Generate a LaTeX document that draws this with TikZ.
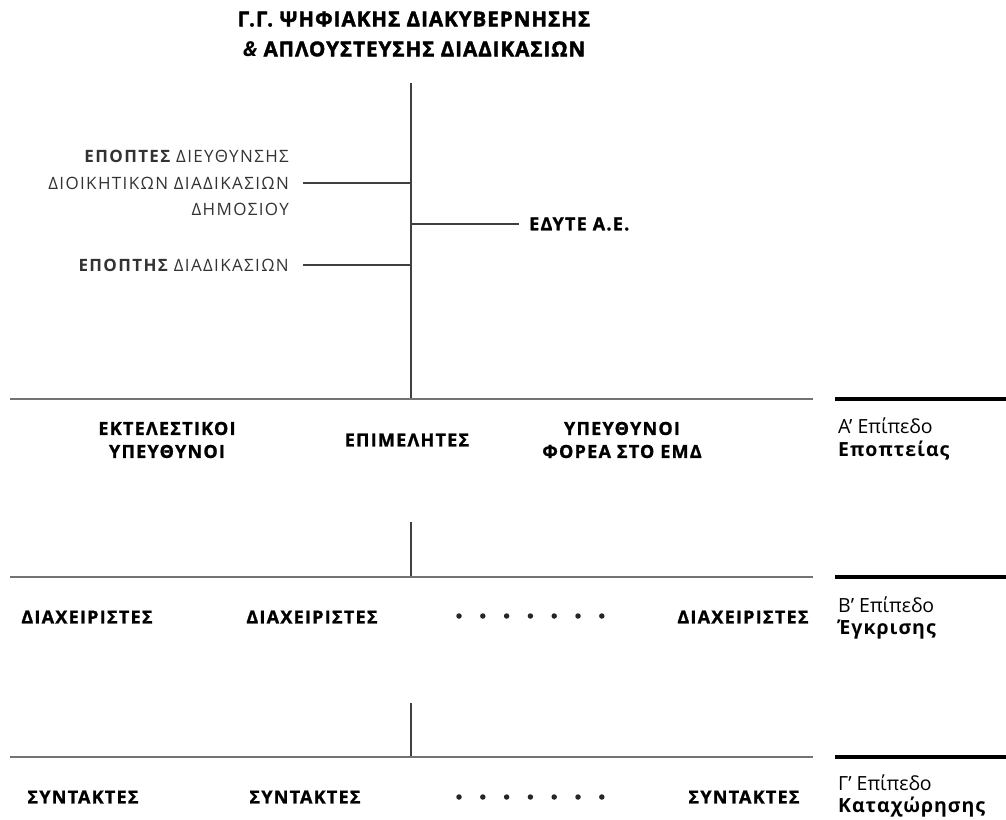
\documentclass[tikz,border=0pt]{standalone}
\usepackage{fontspec}
\setmainfont{Open Sans}
\newfontfamily\titlefont[LetterSpace=5, BoldFeatures={FakeBold=2}]{Open Sans}
\newfontfamily\labfont[LetterSpace=7, BoldFeatures={FakeBold=1.2}]{Open Sans}
\newfontfamily\lefffont[LetterSpace=8]{Open Sans}
\newfontfamily\lvlfont{Open Sans}
\newfontfamily\lvlbfont[LetterSpace=5]{Open Sans}
\begin{document}
\begin{tikzpicture}[x=1pt,y=-1pt,
  hline/.style={draw=black!55, line width=1.7pt},
  vline/.style={draw=black!75, line width=1.3pt},
  tline/.style={draw=black!75, line width=1.3pt},
  thickline/.style={draw=black, line width=3.6pt},
  titlest/.style={font=\titlefont\bfseries\fontsize{20.5}{30}\selectfont, align=center, inner sep=0pt},
  lab/.style={font=\labfont\bfseries\fontsize{18}{23}\selectfont, align=center, inner sep=0pt},
  leftlab/.style={font=\lefffont\fontsize{17}{26.5}\selectfont, align=right, inner sep=0pt, anchor=east, text=black!80},
  lvl/.style={font=\lvlfont\fontsize{19.5}{22.5}\selectfont, align=left, inner sep=0pt, anchor=west},
  dot/.style={circle, fill=black!85, inner sep=0pt, minimum size=5.5pt}
]
\useasboundingbox (0,0) rectangle (1006,819);

% title
\node[titlest] (title) at (414,34) {Γ.Γ. ΨΗΦΙΑΚΗΣ ΔΙΑΚΥΒΕΡΝΗΣΗΣ\\{\itshape\&} ΑΠΛΟΥΣΤΕΥΣΗΣ ΔΙΑΔΙΚΑΣΙΩΝ};

% main vertical
\coordinate (top) at (411,83);
\coordinate (aL) at (10,399);
\coordinate (aM) at (411,399);
\coordinate (aR) at (813,399);
\coordinate (aT1) at (835,399);
\coordinate (aT2) at (1006,399);
\draw[vline] (top) -- (aM);
\draw[hline] (aL) -- (aR);
\draw[thickline] (aT1) -- (aT2);

% supervisors
\node[leftlab] (ep1) at (289,183) {{\bfseries ΕΠΟΠΤΕΣ} ΔΙΕΥΘΥΝΣΗΣ\\ΔΙΟΙΚΗΤΙΚΩΝ ΔΙΑΔΙΚΑΣΙΩΝ\\ΔΗΜΟΣΙΟΥ};
\node[leftlab] (ep2) at (289,265) {{\bfseries ΕΠΟΠΤΗΣ} ΔΙΑΔΙΚΑΣΙΩΝ};
\draw[tline] ([xshift=14pt]ep1.east) -- (ep1.east -| top);
\draw[tline] ([xshift=14pt]ep2.east) -- (ep2.east -| top);
\node[lab, anchor=west] (edyte) at (529,224) {ΕΔΥΤΕ Α.Ε.};
\draw[tline] ([xshift=-10pt]edyte.west) -- (edyte.west -| top);

% level A
\node[lab] (a1) at (167,440) {ΕΚΤΕΛΕΣΤΙΚΟΙ\\ΥΠΕΥΘΥΝΟΙ};
\node[lab] (a2) at (407,440) {ΕΠΙΜΕΛΗΤΕΣ};
\node[lab] (a3) at (622,440) {ΥΠΕΥΘΥΝΟΙ\\ΦΟΡΕΑ ΣΤΟ ΕΜΔ};
\node[lvl] (lvA) at (838,439) {Α’ Επίπεδο\\{\lvlbfont\bfseries Εποπτείας}};

% level B
\coordinate (bT) at (411,522);
\coordinate (bM) at (411,577);
\coordinate (bL) at (10,577);
\coordinate (bR) at (813,577);
\coordinate (bT1) at (835,577);
\coordinate (bT2) at (1006,577);
\draw[vline] (bT) -- (bM);
\draw[hline] (bL) -- (bR);
\draw[thickline] (bT1) -- (bT2);
\node[lab] (b1) at (87,617) {ΔΙΑΧΕΙΡΙΣΤΕΣ};
\node[lab] (b2) at (312,617) {ΔΙΑΧΕΙΡΙΣΤΕΣ};
\node[lab] (b3) at (743,617) {ΔΙΑΧΕΙΡΙΣΤΕΣ};
\foreach \i in {0,...,6} {\node[dot] (bd\i) at (459+23.8*\i,616) {};}
\node[lvl] (lvB) at (838,618) {Β’ Επίπεδο\\{\lvlbfont\bfseries Έγκρισης}};

% level C
\coordinate (cT) at (411,703);
\coordinate (cM) at (411,757);
\coordinate (cL) at (10,757);
\coordinate (cR) at (813,757);
\coordinate (cT1) at (835,757);
\coordinate (cT2) at (1006,757);
\draw[vline] (cT) -- (cM);
\draw[hline] (cL) -- (cR);
\draw[thickline] (cT1) -- (cT2);
\node[lab] (c1) at (83,797) {ΣΥΝΤΑΚΤΕΣ};
\node[lab] (c2) at (305,797) {ΣΥΝΤΑΚΤΕΣ};
\node[lab] (c3) at (744,797) {ΣΥΝΤΑΚΤΕΣ};
\foreach \i in {0,...,6} {\node[dot] (cd\i) at (459+23.8*\i,797) {};}
\node[lvl] (lvC) at (838,796) {Γ’ Επίπεδο\\{\lvlbfont\bfseries Καταχώρησης}};
\end{tikzpicture}
\end{document}
